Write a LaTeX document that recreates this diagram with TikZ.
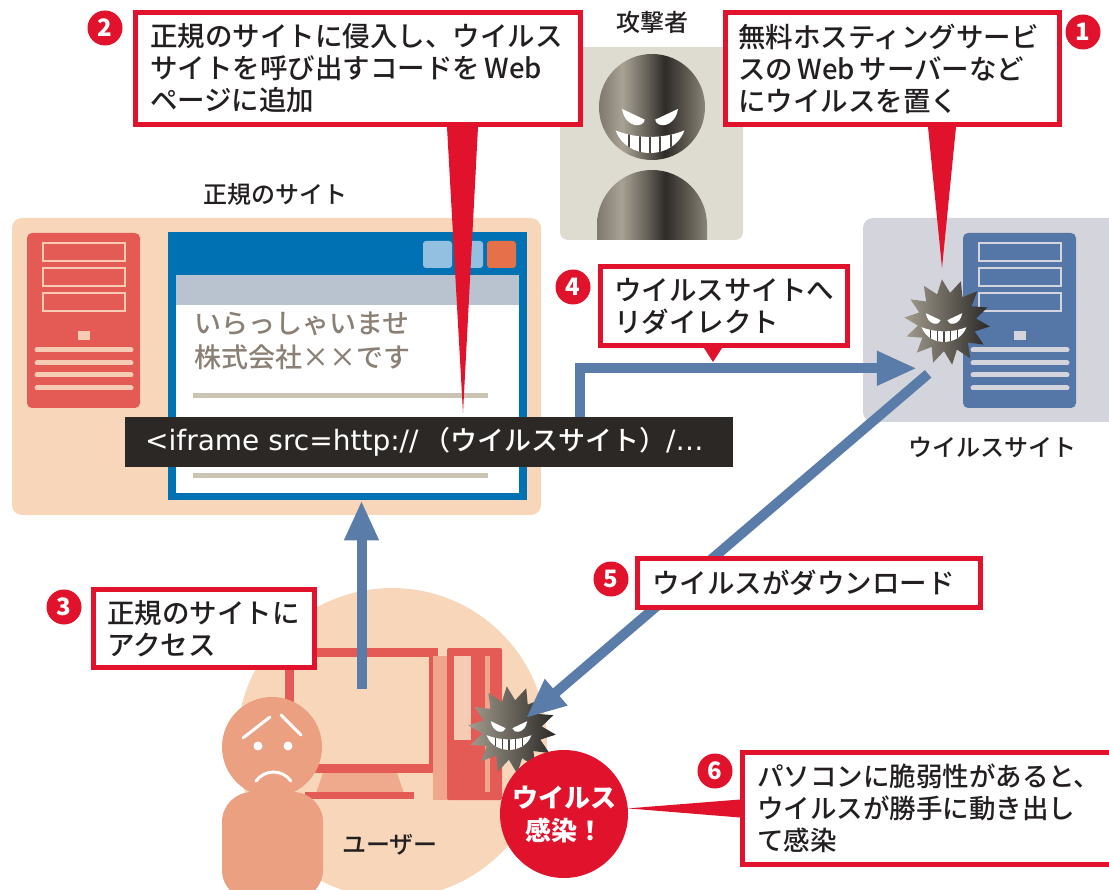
\documentclass[tikz,border=0pt]{standalone}
\usepackage{fontspec}
\setmainfont{Noto Sans CJK JP}
\IfFontExistsTF{Noto Sans CJK JP Medium}{\newfontfamily\txtfont{Noto Sans CJK JP Medium}}{\newcommand\txtfont{}}
\newfontfamily\latinfont{DejaVu Sans}
\usetikzlibrary{arrows.meta,calc}
\newcommand\setfs[2]{\fontsize{#1}{#2}\selectfont}

\definecolor{alertred}{HTML}{E1122C}
\definecolor{peach}{HTML}{F7D6BA}
\definecolor{srvred}{HTML}{E45B55}
\definecolor{slotpeach}{HTML}{F6CBB3}
\definecolor{steel}{HTML}{5A7CA8}
\definecolor{winblue}{HTML}{0071B3}
\definecolor{codebg}{HTML}{2C2825}
\definecolor{ink}{HTML}{231F20}
\definecolor{attackbg}{HTML}{DEDBD0}
\definecolor{virusbg}{HTML}{D4D4DC}
\definecolor{srvblue}{HTML}{5477A7}
\definecolor{skin}{HTML}{ECA082}
\definecolor{standc}{HTML}{EFAA8D}
\definecolor{towerside}{HTML}{EFA68C}
\definecolor{barline}{HTML}{C9C4B2}
\definecolor{addrbar}{HTML}{B8C3CF}
\definecolor{btnblue}{HTML}{93BFE0}
\definecolor{btnorange}{HTML}{E5714A}
\definecolor{pagetext}{HTML}{8B8076}
\definecolor{virL}{HTML}{A39D8E}
\definecolor{virD}{HTML}{2A2826}
\definecolor{teethgap}{HTML}{4A4640}
\definecolor{metA}{HTML}{7E786D}
\definecolor{metB}{HTML}{A8A295}
\definecolor{metC}{HTML}{6A655C}
\definecolor{metD}{HTML}{2E2B28}
\definecolor{metE}{HTML}{5C574F}
\definecolor{metF}{HTML}{8A8479}

% metallic left-to-right gradient for the attacker figure
\pgfdeclarehorizontalshading{metal}{100bp}{color(0bp)=(metA); color(25bp)=(metA);
  color(36bp)=(metB); color(47bp)=(metC); color(56bp)=(metD); color(66bp)=(metE);
  color(75bp)=(metF); color(100bp)=(metF)}

\tikzset{
  pics/server/.style n args={2}{code={
    \fill[#1, rounded corners=5pt] (0,0) rectangle (113,175);
    \draw[#2, line width=2.5pt] (16,10) rectangle (98,28) (16,35) rectangle (98,53) (16,60) rectangle (98,78);
    \fill[#2] (51,98) rectangle (63,107);
    \draw[#2, line width=5pt, line cap=round] (10,117) -- (104,117) (10,130) -- (104,130)
      (10,142) -- (104,142) (10,155) -- (104,155);
  }},
  pics/virus/.style={code={
    \begin{scope}[scale=#1]
      \shade[left color=virL, right color=virD] (6:1)
        \foreach \i in {1,...,27}{ -- ({6+\i*360/28}:{1-0.32*mod(\i,2)}) } -- cycle;
    \end{scope}
  }},
  pics/grin/.style 2 args={code={
    \begin{scope}[scale=#1]
      \fill[white] (-0.65,-0.35) -- (-0.12,-0.1) .. controls (-0.15,0.1) and (-0.58,0.1) .. (-0.65,-0.35) -- cycle;
      \fill[white] (0.65,-0.35) -- (0.12,-0.1) .. controls (0.15,0.1) and (0.58,0.1) .. (0.65,-0.35) -- cycle;
      \begin{scope}
        \clip (-0.8,0.15) .. controls (-0.3,0.35) and (0.3,0.35) .. (0.8,0.15)
          .. controls (0.55,0.85) and (-0.55,0.85) .. (-0.8,0.15) -- cycle;
        \fill[white] (-1,0) rectangle (1,1);
        \foreach \t in {-0.48,-0.24,0,0.24,0.48} \draw[teethgap, line width=#2] (\t,0.1) -- (\t,0.95);
      \end{scope}
    \end{scope}
  }},
}

\begin{document}
\begin{tikzpicture}[x=1pt, y=-1pt,
  callout/.style={draw=alertred, line width=5pt, fill=white, text=ink, anchor=north west,
    align=left, font=\txtfont\setfs{27.5}{32}},
  badge/.style={circle, fill=alertred, text=white, minimum size=35pt, inner sep=0pt,
    font=\bfseries\setfs{24}{24}},
  sitecap/.style={text=ink, font=\txtfont\setfs{24}{28}, inner sep=0pt},
  flow/.style={draw=steel, line width=10pt, -{Triangle[length=40pt,width=32pt]}},
]
\useasboundingbox (0,0) rectangle (1109,890);
\clip (0,0) rectangle (1109,890);

% backdrops
\fill[peach, rounded corners=10pt] (12,218) rectangle (541,515);
\fill[virusbg, rounded corners=10pt] (863,218) rectangle (1130,422);
\fill[attackbg, rounded corners=8pt] (560,47) rectangle (743,240);
\fill[peach] (392,743) circle (155pt);

% captions
\node[sitecap] (lblatk) at (652,22) {攻撃者};
\node[sitecap] (lbllegit) at (275,195) {正規のサイト};
\node[sitecap] (lblvs) at (992,447) {ウイルスサイト};
\node[sitecap] (lbluser) at (390,845) {ユーザー};

% legitimate site: server and browser
\pic at (27,233) {server={srvred}{slotpeach}};
\node[fill=winblue, minimum width=359pt, minimum height=268pt, anchor=north west, inner sep=0pt] (browser) at (168,232) {};
\fill[white] (176,275) rectangle (519,493);
\fill[addrbar] (176,275) rectangle (519,305);
\fill[btnblue, rounded corners=3pt] (423,241) rectangle (452,268);
\fill[btnblue, rounded corners=3pt] (455,241) rectangle (483,268);
\fill[btnorange, rounded corners=3pt] (487,241) rectangle (516,268);
\node[anchor=north west, text=pagetext, font=\txtfont\setfs{27}{34}, align=left, inner sep=0pt] (greet) at (194,312) {いらっしゃいませ\\株式会社××です};
\draw[barline, line width=5pt] (193,396) -- (488,396);
\draw[barline, line width=5pt] (193,476) -- (488,476);

% virus site server
\pic at (963,233) {server={srvblue}{virusbg}};

% attacker
\begin{scope}
  \clip[rounded corners=8pt] (560,47) rectangle (743,240);
  \shade[shading=metal] (652,225) circle (55pt);
  \shade[shading=metal] (597,225) rectangle (707,245);
\end{scope}
\shade[shading=metal] (652,107) circle (53pt);
\pic at (650,124) {grin={43}{2.2pt}};

% user with desktop PC
\node[draw=srvred, line width=9pt, fill=peach, minimum width=144pt, minimum height=116pt, anchor=north west, inner sep=0pt] (monitor) at (285,648) {};
\fill[standc] (323,773) -- (397,773) -- (404,793) -- (316,793) -- cycle;
\fill[srvred] (305,792) rectangle (414,799);
\fill[towerside] (433,656) rectangle (448,800);
\fill[srvred, rounded corners=2pt] (447,648) rectangle (502,800);
\fill[slotpeach] (454,656) rectangle (471,740);
\fill[towerside] (485,656) rectangle (490,792);
\fill[skin, rounded corners=30pt] (222,900) -- (222,792) -- (323,792) -- (323,900) -- cycle;
\fill[skin] (272,747) circle (50pt);
\draw[white, line width=3pt, line cap=round] (243,738) -- (270,717);
\draw[white, line width=3pt, line cap=round] (281,715) -- (301,735);
\fill[white] (258,746) circle (4.5pt);
\fill[white] (288,746) circle (4.5pt);
\draw[white, line width=3pt, line cap=round] (256,781) .. controls (265,769) and (282,769) .. (291,781);

% callouts along the top
\node[callout, minimum width=445pt, minimum height=112pt, text width=416pt, inner xsep=14.5pt] (c2) at (133,10)
  {正規のサイトに侵入し、ウイルス\\サイトを呼び出すコードを\,Web\\ページに追加};
\node[callout, minimum width=334pt, minimum height=112pt, text width=309pt, inner xsep=12.5pt] (c1) at (723,10)
  {無料ホスティングサービ\\スの\,Web\,サーバーなど\\にウイルスを置く};
\fill[alertred] ($(c2.south west)+(314,0)$) -- ($(c2.south west)+(345,0)$) -- (463,413) -- cycle;
\fill[alertred] ($(c1.south west)+(205,0)$) -- ($(c1.south west)+(233,0)$) -- (942,268) -- cycle;

% injected code
\node[fill=codebg, text=white, minimum width=608pt, minimum height=50pt, anchor=north west,
  inner xsep=20pt, inner ysep=0pt, text width=568pt, align=left,
  font=\txtfont\setfs{27}{28}] (code) at (125,417)
  {{\latinfont\setfs{28}{28}<iframe src=http://}\,（ウイルスサイト）{\latinfont\setfs{28}{28}/…}};

% viruses
\node[circle, minimum size=110pt, inner sep=0pt] (vsvirus) at (947,322) {};
\pic at (947,322) {virus=43};
\pic at (944,323) {grin={28}{1.4pt}};
\node[circle, minimum size=36pt, inner sep=0pt] (pcvirus) at (512,730) {};
\pic at (512,730) {virus=44};
\pic at (509,731) {grin={28}{1.4pt}};

% flows
\draw[flow] ([xshift=151pt]code.north) |- (vsvirus.237);
\draw[flow] (vsvirus.250) -- (pcvirus);
\draw[flow] ([yshift=22pt]monitor.center) -- (monitor.center |- browser.south);

% remaining callouts
\node[callout, minimum width=247pt, minimum height=79pt, text width=220pt, inner xsep=13.5pt] (c4) at (598,264)
  {ウイルスサイトへ\\リダイレクト};
\fill[alertred] ($(c4.south west)+(106,0)$) -- ($(c4.south west)+(124,0)$) -- (713,362) -- cycle;
\node[callout, minimum width=343pt, minimum height=49pt, text width=314pt, inner xsep=14.5pt, inner ysep=4pt] (c5) at (635,556)
  {ウイルスがダウンロード};
\node[callout, minimum width=221pt, minimum height=78pt, text width=194pt, inner xsep=13.5pt] (c3) at (91,587)
  {正規のサイトに\\アクセス};

% infection
\node[circle, fill=alertred, minimum size=128pt, inner sep=0pt, text=white, align=center,
  font=\bfseries\setfs{26}{33}] (infect) at (564,814) {ウイルス\\感染！};
\node[callout, minimum width=390pt, minimum height=112pt, text width=361pt, inner xsep=13pt,
  font=\txtfont\setfs{26.5}{32}] (c6) at (740,750)
  {パソコンに脆弱性があると、\\ウイルスが勝手に動き出し\\て感染};
\fill[alertred] (infect.5) -- ([yshift=9pt]c6.west) -- ([yshift=-9pt]c6.west) -- cycle;

% step numbers
\node[badge] (b1) at (1083,32) {1};
\node[badge] (b2) at (105,28) {2};
\node[badge] (b3) at (64,607) {3};
\node[badge] (b4) at (573,287) {4};
\node[badge] (b5) at (611,579) {5};
\node[badge] (b6) at (715,771) {6};
\end{tikzpicture}
\end{document}
